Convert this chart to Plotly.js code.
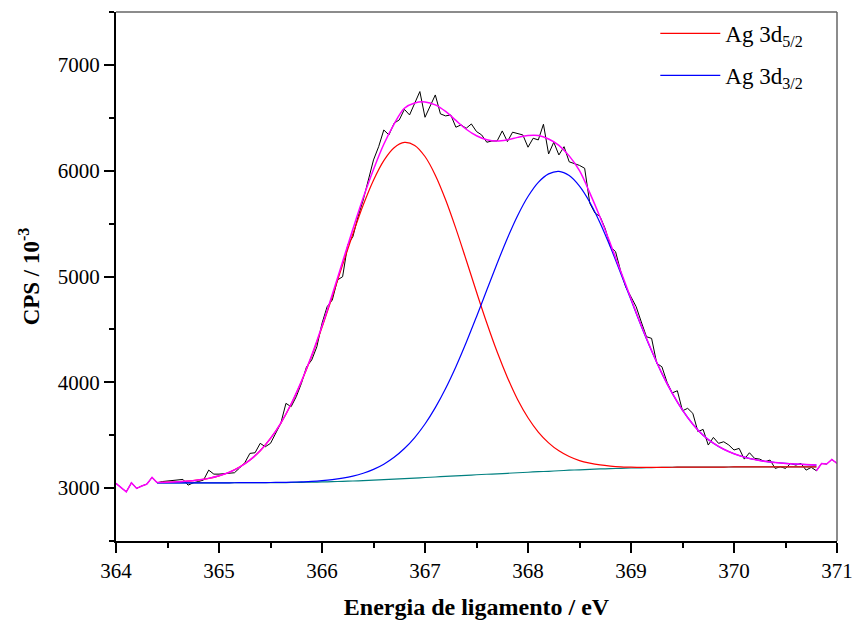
<!DOCTYPE html>
<html>
<head>
<meta charset="utf-8">
<script src="https://cdn.plot.ly/plotly-3.0.1.min.js"></script>
<style>html,body{margin:0;padding:0;background:#fff;}#chart{width:852px;height:620px;}</style>
</head>
<body>
<div id="chart"></div>
<script>
// Measured spectrum (binding energy, eV) and counts
const energy = [
364.00,364.05,364.10,364.15,364.20,364.25,364.30,364.35,364.40,364.45,
364.50,364.55,364.60,364.65,364.70,364.75,364.80,364.85,364.90,364.95,
365.00,365.05,365.10,365.15,365.20,365.25,365.30,365.35,365.40,365.45,
365.50,365.55,365.60,365.65,365.70,365.75,365.80,365.85,365.90,365.95,
366.00,366.05,366.10,366.15,366.20,366.25,366.30,366.35,366.40,366.45,
366.50,366.55,366.60,366.65,366.70,366.75,366.80,366.85,366.90,366.95,
367.00,367.05,367.10,367.15,367.20,367.25,367.30,367.35,367.40,367.45,
367.50,367.55,367.60,367.65,367.70,367.75,367.80,367.85,367.90,367.95,
368.00,368.05,368.10,368.15,368.20,368.25,368.30,368.35,368.40,368.45,
368.50,368.55,368.60,368.65,368.70,368.75,368.80,368.85,368.90,368.95,
369.00,369.05,369.10,369.15,369.20,369.25,369.30,369.35,369.40,369.45,
369.50,369.55,369.60,369.65,369.70,369.75,369.80,369.85,369.90,369.95,
370.00,370.05,370.10,370.15,370.20,370.25,370.30,370.35,370.40,370.45,
370.50,370.55,370.60,370.65,370.70,370.75,370.80,370.85,370.90,370.95,
371.00];
const counts = [
3044,3005,2965,3050,2997,3020,3038,3101,3050,3062,
3068,3076,3080,3082,3028,3050,3062,3076,3170,3132,
3132,3135,3140,3145,3190,3239,3328,3334,3423,3391,
3423,3517,3612,3801,3769,3864,3990,4147,4210,4336,
4557,4715,4778,4967,4998,5300,5377,5566,5723,5912,
6102,6227,6385,6338,6449,6480,6580,6527,6640,6748,
6505,6610,6716,6537,6518,6527,6411,6433,6401,6442,
6370,6338,6269,6281,6281,6376,6275,6364,6350,6338,
6222,6307,6291,6439,6158,6269,6149,6227,6084,6070,
6050,6023,5692,5600,5566,5450,5282,5235,5050,4900,
4800,4715,4570,4431,4415,4179,4147,4000,3900,3920,
3731,3754,3707,3533,3555,3407,3479,3423,3438,3407,
3360,3375,3274,3334,3281,3274,3249,3265,3186,3202,
3186,3233,3217,3233,3170,3196,3164,3233,3227,3271,
3233];

// Fit curves
const fitEnergy = [
364.4,364.5,364.6,364.7,364.8,364.9,365.0,365.1,365.2,365.3,
365.4,365.5,365.6,365.7,365.8,365.9,366.0,366.1,366.2,366.3,
366.4,366.5,366.6,366.7,366.8,366.9,367.0,367.1,367.2,367.3,
367.4,367.5,367.6,367.7,367.8,367.9,368.0,368.1,368.2,368.3,
368.4,368.5,368.6,368.7,368.8,368.9,369.0,369.1,369.2,369.3,
369.4,369.5,369.6,369.7,369.8,369.9,370.0,370.1,370.2,370.3,
370.4,370.5,370.6,370.7,370.8];
const baseline = [
3050,3050,3050,3050,3050,3050,3050,3050,3051,3051,
3051,3052,3052,3053,3055,3056,3058,3061,3064,3067,
3071,3075,3080,3085,3090,3095,3100,3105,3111,3116,
3121,3126,3131,3135,3140,3145,3150,3155,3159,3164,
3169,3173,3177,3181,3184,3187,3190,3192,3194,3195,
3197,3198,3198,3199,3199,3199,3200,3200,3200,3200,
3200,3200,3200,3200,3200];
const ag3d52 = [
3053,3056,3060,3066,3077,3092,3116,3150,3199,3265,
3353,3469,3613,3792,4005,4248,4520,4811,5110,5402,
5675,5910,6095,6217,6267,6239,6134,5958,5726,5453,
5156,4853,4560,4288,4046,3835,3665,3530,3428,3352,
3298,3260,3236,3219,3208,3201,3198,3196,3196,3196,
3197,3198,3198,3199,3199,3199,3200,3200,3200,3200,
3200,3200,3200,3200,3200];
const ag3d32 = [
3050,3050,3050,3050,3050,3050,3050,3050,3051,3051,
3051,3053,3054,3056,3059,3063,3070,3080,3094,3113,
3140,3177,3226,3291,3374,3478,3606,3761,3942,4148,
4376,4620,4872,5123,5362,5577,5756,5890,5970,5994,
5954,5854,5702,5506,5278,5031,4779,4530,4297,4083,
3897,3737,3604,3499,3424,3367,3325,3293,3270,3253,
3242,3233,3227,3222,3218];
const envelope = [
3053,3056,3060,3066,3077,3092,3116,3150,3199,3265,
3353,3470,3615,3795,4009,4255,4532,4830,5140,5448,
5744,6012,6250,6440,6590,6640,6650,6622,6560,6475,
6392,6330,6292,6280,6292,6315,6332,6332,6300,6240,
6140,6000,5790,5560,5310,5050,4790,4536,4301,4085,
3898,3737,3604,3499,3424,3367,3325,3293,3270,3253,
3242,3233,3227,3222,3218];

const legendNames = ['Ag 3d<sub>5/2</sub>', 'Ag 3d<sub>3/2</sub>'];
const xTicks = [364,365,366,367,368,369,370,371];
const yTicks = [3000,4000,5000,6000,7000];

// envelope follows the raw data outside the fitted window
const leftIdx = [0,1,2,3,4,5,6,7,8];
const rightIdx = [136,137,138,139,140];

const traces = [
  {x: energy, y: counts, mode:'lines', line:{color:'#000000', width:1}, showlegend:false, hoverinfo:'skip'},
  {x: fitEnergy, y: baseline, mode:'lines', line:{color:'#008080', width:1.2, shape:'spline'}, showlegend:false},
  {x: fitEnergy, y: ag3d52, mode:'lines', name: legendNames[0], legendgroup:'a', line:{color:'#ff0000', width:1.2, shape:'spline'}},
  {x: fitEnergy, y: ag3d32, mode:'lines', name: legendNames[1], legendgroup:'b', line:{color:'#0000ff', width:1.2, shape:'spline'}},
  {x: leftIdx.map(i=>energy[i]), y: leftIdx.map(i=>counts[i]), mode:'lines', line:{color:'#ff00ff', width:1.5}, showlegend:false},
  {x: fitEnergy, y: envelope, mode:'lines', line:{color:'#ff00ff', width:1.5, shape:'spline'}, showlegend:false},
  {x: rightIdx.map(i=>energy[i]), y: rightIdx.map(i=>counts[i]), mode:'lines', line:{color:'#ff00ff', width:1.5}, showlegend:false}
];

const serif = 'Liberation Serif, Times New Roman, serif';
const layout = {
  width: 852, height: 620,
  margin: {l:116, r:15, t:12, b:79, pad:0},
  paper_bgcolor:'#ffffff', plot_bgcolor:'#ffffff',
  font: {family: serif, color:'#000000'},
  showlegend: true,
  xaxis: {
    range:[364,371], tickvals: xTicks, ticktext: xTicks.map(String),
    ticks:'outside', ticklen:10, tickwidth:2, tickcolor:'#000',
    showline:true, linecolor:'#000', linewidth:2, showgrid:false, zeroline:false,
    tickfont:{size:21, family: serif}, ticklabeloverflow:'allow',
    minor:{dtick:0.5, tick0:364, ticks:'outside', ticklen:5, tickwidth:2, tickcolor:'#000', showgrid:false},
    title:{text:'<b>Energia de ligamento / eV</b>', font:{size:24, family: serif}, standoff:18}
  },
  yaxis: {
    range:[2500,7500], tickvals: yTicks, ticktext: yTicks.map(String),
    ticks:'outside', ticklen:10, tickwidth:2, tickcolor:'#000',
    showline:true, linecolor:'#000', linewidth:2, showgrid:false, zeroline:false,
    tickfont:{size:21, family: serif}, ticklabeloverflow:'allow',
    minor:{dtick:500, tick0:2500, ticks:'outside', ticklen:5, tickwidth:2, tickcolor:'#000', showgrid:false},
    title:{text:'<b>CPS / 10<sup>-3</sup></b>', font:{size:23, family: serif}, standoff:12}
  },
  shapes: [
    {type:'line', xref:'paper', yref:'paper', x0:0, x1:1, y0:1, y1:1, line:{color:'#666666', width:1.5}},
    {type:'line', xref:'paper', yref:'paper', x0:1, x1:1, y0:0, y1:1, line:{color:'#666666', width:1.5}}
  ],
  legend: {
    x:0.748, y:1.0, xanchor:'left', yanchor:'top',
    bgcolor:'rgba(0,0,0,0)', borderwidth:0,
    font:{size:23, family: serif}, itemwidth:60,
    traceorder:'grouped', tracegroupgap:9
  }
};

Plotly.newPlot('chart', traces, layout, {displayModeBar:false, staticPlot:true});
</script>
</body>
</html>
